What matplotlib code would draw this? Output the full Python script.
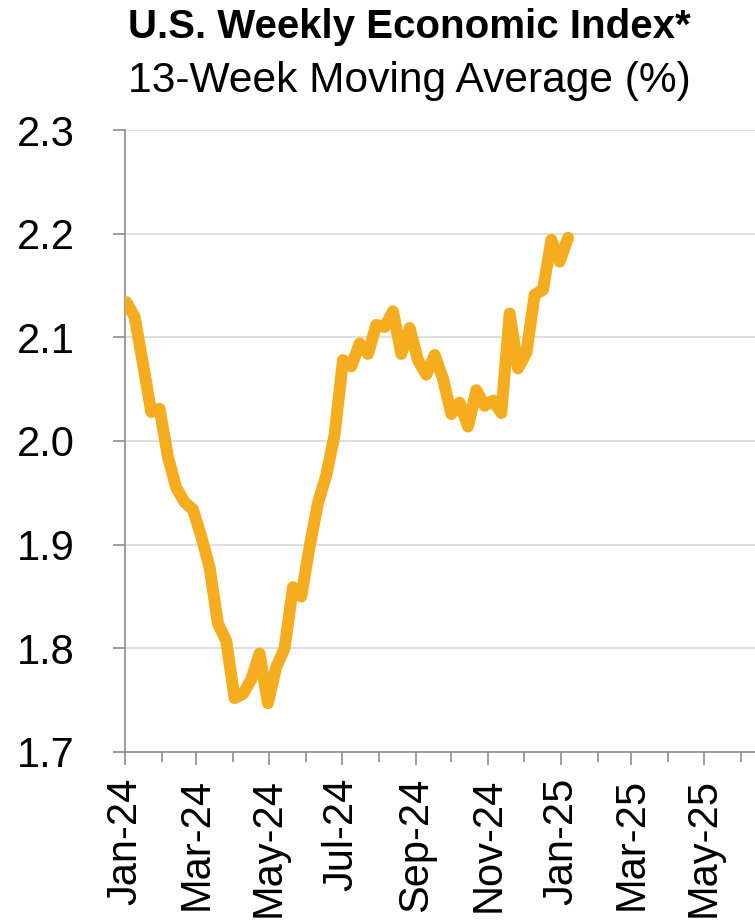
import pandas as pd
import matplotlib
matplotlib.use('Agg')
import matplotlib.pyplot as plt
import matplotlib.dates as mdates

plt.rcParams['font.family'] = ['Liberation Sans', 'DejaVu Sans']

# Dados semanais (media movel de 13 semanas, %)
start_date = '2024-01-02'
wei_values = [
    2.134, 2.120, 2.075, 2.028, 2.031, 1.985, 1.955, 1.941, 1.934, 1.908,
    1.878, 1.824, 1.807, 1.752, 1.756, 1.770, 1.795, 1.747, 1.782, 1.800,
    1.859, 1.850, 1.898, 1.940, 1.967, 2.006, 2.078, 2.072, 2.094, 2.084,
    2.112, 2.110, 2.125, 2.084, 2.109, 2.078, 2.064, 2.083, 2.060, 2.026,
    2.037, 2.014, 2.049, 2.034, 2.039, 2.027, 2.123, 2.070, 2.085, 2.141,
    2.146, 2.194, 2.173, 2.196,
]
dates = pd.date_range(start_date, periods=len(wei_values), freq='7D')

y_ticks = [1.7, 1.8, 1.9, 2.0, 2.1, 2.2, 2.3]
x_start = '2024-01-01'
x_end = '2025-06-13'

LINE_COLOR = '#F5AC1E'
AXIS_COLOR = '#8C8C8C'
GRID_COLOR = '#D9D9D9'

fig = plt.figure(figsize=(7.55, 9.22), dpi=100)
ax = fig.add_axes([0.1656, 0.1844, 0.8344, 0.6746])

ax.plot(dates, wei_values, color=LINE_COLOR, lw=8.6,
        solid_joinstyle='round', solid_capstyle='round', zorder=3)

ax.set_ylim(1.7, 2.3)
ax.set_yticks(y_ticks)
ax.set_yticklabels([f'{v:.1f}' for v in y_ticks])
ax.set_xlim(pd.Timestamp(x_start), pd.Timestamp(x_end))

ax.xaxis.set_major_locator(mdates.MonthLocator(bymonth=[1, 3, 5, 7, 9, 11]))
ax.xaxis.set_minor_locator(mdates.MonthLocator(bymonth=[2, 4, 6, 8, 10, 12]))
ax.xaxis.set_major_formatter(mdates.DateFormatter('%b-%y'))

ax.grid(axis='y', color=GRID_COLOR, lw=1.2, zorder=0)
ax.set_axisbelow(True)

for side in ['top', 'right']:
    ax.spines[side].set_visible(False)
for side in ['left', 'bottom']:
    ax.spines[side].set_color(AXIS_COLOR)
    ax.spines[side].set_linewidth(1.2)

ax.tick_params(axis='y', direction='out', length=8.6, width=1.2, color=AXIS_COLOR,
               labelsize=30, pad=27.5)
ax.tick_params(axis='x', which='major', direction='out', length=9.4, width=1.2,
               color=AXIS_COLOR, labelsize=30, pad=9, labelrotation=90)
ax.tick_params(axis='x', which='minor', direction='out', length=7, width=1.2,
               color=AXIS_COLOR)

fig.text(0.542, 0.9588, 'U.S. Weekly Economic Index*', fontsize=29,
         fontweight='bold', ha='center', va='baseline')
fig.text(0.542, 0.900, '13-Week Moving Average (%)', fontsize=30.6,
         ha='center', va='baseline')

fig.savefig('out.png', dpi=100)
